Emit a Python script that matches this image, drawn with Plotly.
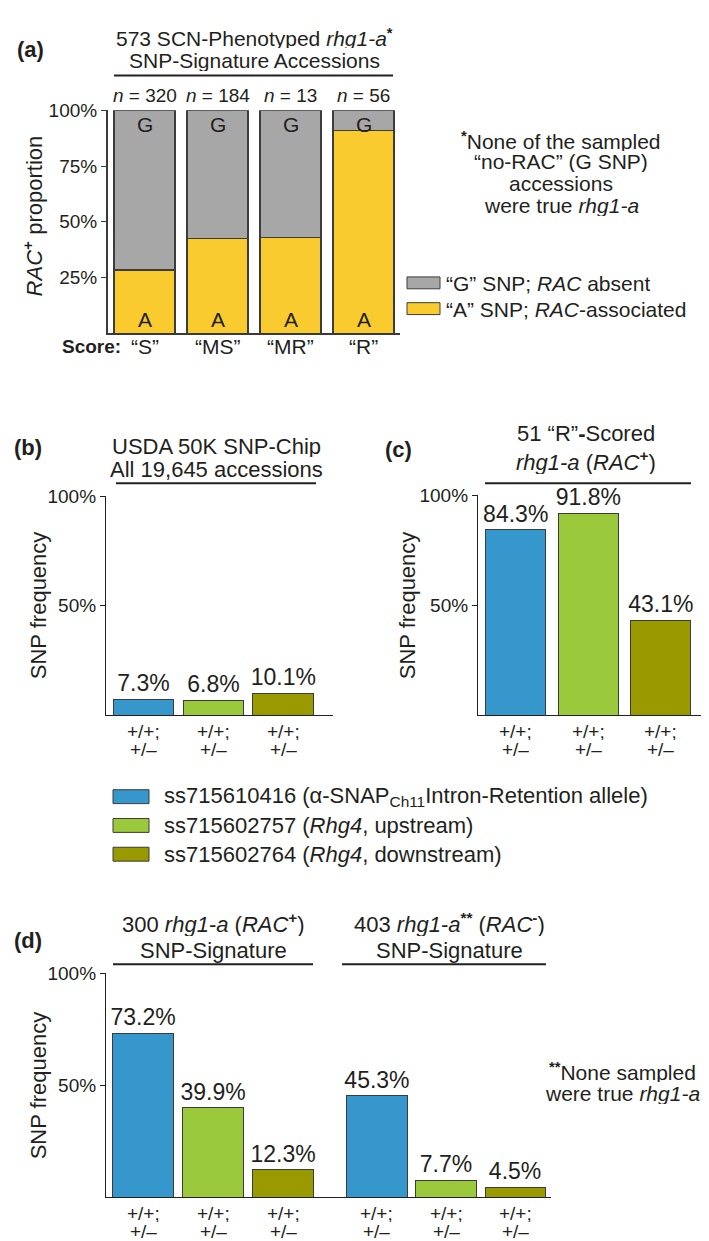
import plotly.graph_objects as go

# ---------------- data ----------------
scores = ["“S”", "“MS”", "“MR”", "“R”"]
n_counts = [320, 184, 13, 56]
a_share = [28.4, 42.4, 43.0, 91.1]     # "A" SNP; RAC-associated (%)
g_share = [71.6, 57.6, 57.0, 8.9]      # "G" SNP; RAC absent (%)

snp_ids = ["ss715610416", "ss715602757", "ss715602764"]
snp_desc = ["(α-SNAP<sub>Ch11</sub>Intron-Retention allele)",
            "(<i>Rhg4</i>, upstream)",
            "(<i>Rhg4</i>, downstream)"]
genotype_lines = ["+/+;", "+/–"]
freq_b = [7.3, 6.8, 10.1]
freq_c = [84.3, 91.8, 43.1]
freq_d_pos = [73.2, 39.9, 12.3]
freq_d_neg = [45.3, 7.7, 4.5]

# ---------------- style ----------------
W, H = 709, 1241
FONT = "Liberation Sans, Arial, sans-serif"
INK = "#231F20"
YELLOW = "#F9CB2F"
GRAY = "#A7A7A7"
SNP_COLORS = ["#3597CC", "#9ACA3C", "#999900"]
EDGE = "#3C3C3C"


def px(x):
    return x / W


def py(y):
    return 1 - y / H


fig = go.Figure()

# panel (a)
fig.add_trace(go.Bar(x=scores, y=a_share, marker=dict(color=YELLOW, line=dict(color=EDGE, width=1.2)),
                     width=0.835, xaxis="x", yaxis="y", showlegend=False, hoverinfo="skip"))
fig.add_trace(go.Bar(x=scores, y=g_share, marker=dict(color=GRAY, line=dict(color=EDGE, width=1.2)),
                     width=0.835, xaxis="x", yaxis="y", showlegend=False, hoverinfo="skip"))


def freq_bar(vals, xa, ya, width):
    return go.Bar(x=snp_ids, y=vals, xaxis=xa, yaxis=ya, width=width,
                  marker=dict(color=SNP_COLORS, line=dict(color=EDGE, width=1)),
                  text=[f"{v:.1f}%" for v in vals], textposition="outside",
                  textfont=dict(size=23, color=INK, family=FONT), cliponaxis=False,
                  constraintext="none", showlegend=False, hoverinfo="skip")


fig.add_trace(freq_bar(freq_b, "x2", "y2", 0.87))
fig.add_trace(freq_bar(freq_c, "x3", "y3", 0.83))
fig.add_trace(freq_bar(freq_d_pos, "x4", "y4", 0.87))
fig.add_trace(freq_bar(freq_d_neg, "x5", "y4", 0.87))

ybase = dict(range=[0, 100], showgrid=False, zeroline=False, showline=True,
             linecolor=INK, linewidth=1.2, ticks="outside", ticklen=5, tickwidth=1.2,
             tickcolor=INK, tickfont=dict(size=19, color=INK), fixedrange=True)
xbase = dict(showgrid=False, zeroline=False, showline=True, linecolor=INK, linewidth=1.4,
             ticks="", showticklabels=False, fixedrange=True)

fig.update_layout(
    width=W, height=H, margin=dict(l=0, r=0, t=0, b=0),
    paper_bgcolor="white", plot_bgcolor="white",
    font=dict(family=FONT, color=INK, size=19),
    barmode="stack",
    xaxis=dict(xbase, domain=[px(100), px(392)], range=[-0.5, 3.5], anchor="y",
               linecolor="#3A3A3A", linewidth=2),
    yaxis=dict(ybase, domain=[py(318), py(93)], anchor="x", tickvals=[25, 50, 75, 100],
               ticktext=["25%", "50%", "75%", "100%"], linecolor="#3A3A3A", linewidth=2,
               tickcolor="#3A3A3A"),
    xaxis2=dict(xbase, domain=[px(98), px(325)], range=[-0.536, 2.71], anchor="y2"),
    yaxis2=dict(ybase, domain=[py(703), py(482)], anchor="x2", tickvals=[50, 100],
                ticktext=["50%", "100%"]),
    xaxis3=dict(xbase, domain=[px(470), px(700)], range=[-0.52, 2.65], anchor="y3"),
    yaxis3=dict(ybase, domain=[py(703), py(481)], anchor="x3", tickvals=[50, 100],
                ticktext=["50%", "100%"]),
    xaxis4=dict(xbase, domain=[px(98), px(322)], range=[-0.53, 2.67], anchor="y4"),
    xaxis5=dict(xbase, domain=[px(322), px(543)], range=[-0.68, 2.52], anchor="y4"),
    yaxis4=dict(ybase, domain=[py(1189), py(963)], anchor="x4", tickvals=[50, 100],
                ticktext=["50%", "100%"]),
)

ann = []
shapes = []


def text(x, y, s, size=21, bold=False, angle=0, xanchor="center", xref="paper", yref="paper",
         height=None):
    if bold:
        s = f"<b>{s}</b>"
    a = dict(x=x, y=y, xref=xref, yref=yref, text=s, showarrow=False,
             textangle=angle, xanchor=xanchor, yanchor="middle", borderpad=0,
             font=dict(size=size, color=INK, family=FONT))
    if height:
        a["height"] = height
    ann.append(a)


def hline(x0, x1, y, w=2):
    shapes.append(dict(type="line", xref="paper", yref="paper", x0=px(x0), x1=px(x1),
                       y0=py(y), y1=py(y), line=dict(color=INK, width=w)))


def genotype_labels(xref, base_y):
    for sid in snp_ids:
        text(sid, py(base_y + 16), genotype_lines[0], 19, xref=xref, height=18)
        text(sid, py(base_y + 34), genotype_lines[1], 19, xref=xref, height=18)


# ---- panel (a) ----
text(px(22), py(32), "(a)", 22, bold=True)
text(px(246), py(20), "573 SCN-Phenotyped <i>rhg1-a</i><b><sup>*</sup></b>", 21, height=21)
text(px(246), py(43), "SNP-Signature Accessions", 21, height=21)
hline(106, 385, 58)
for s, n in zip(scores, n_counts):
    text(s, py(78), f"<i>n</i> = {n}", 19, xref="x")
    text(s, py(331), s, 21, xref="x")
    ann.append(dict(x=s, y=100, xref="x", yref="y", text="G", showarrow=False, yanchor="top",
                    yshift=-1, font=dict(size=21, color=INK, family=FONT)))
    ann.append(dict(x=s, y=0, xref="x", yref="y", text="A", showarrow=False, yanchor="bottom",
                    yshift=0, font=dict(size=21, color=INK, family=FONT)))
text(px(25), py(200), "<i>RAC</i><sup><b>+</b></sup> proportion", 22, angle=-90)
text(px(83), py(331), "Score:", 19, bold=True)

text(px(553), py(123), "<b><sup>*</sup></b>None of the sampled", 21, height=21)
text(px(553), py(145), "“no-RAC” (G SNP)", 21, height=21)
text(px(553), py(167), "accessions", 21, height=21)
text(px(553), py(189), "were true <i>rhg1-a</i>", 21, height=21)

for yy, col, lab in [(267, GRAY, "“G” SNP; <i>RAC</i> absent"),
                     (293, YELLOW, "“A” SNP; <i>RAC</i>-associated")]:
    shapes.append(dict(type="rect", xref="paper", yref="paper", x0=px(399), x1=px(432),
                       y0=py(yy + 6), y1=py(yy - 6), fillcolor=col, line=dict(color=EDGE, width=1)))
    text(px(437), py(yy), lab, 21, xanchor="left", height=24)

# ---- panel (b) ----
text(px(20), py(433), "(b)", 22, bold=True)
text(px(208), py(431), "USDA 50K SNP-Chip", 22, height=22)
text(px(208), py(455), "All 19,645 accessions", 22, height=22)
hline(108, 308, 469)
text(px(30), py(592), "SNP frequency", 22, angle=-90)
genotype_labels("x2", 703)

# ---- panel (c) ----
text(px(390), py(435), "(c)", 22, bold=True)
text(px(578), py(418), "51 “R”<b>-</b>Scored", 22, height=26)
text(px(578), py(447), "<i>rhg1-a</i> (<i>RAC</i><sup><b>+</b></sup>)", 22, height=26)
hline(477, 683, 469)
text(px(399), py(592), "SNP frequency", 22, angle=-90)
genotype_labels("x3", 703)

# ---- legend for b-d ----
for i, (sid, desc, col) in enumerate(zip(snp_ids, snp_desc, SNP_COLORS)):
    yy = 785 + i * 29
    shapes.append(dict(type="rect", xref="paper", yref="paper", x0=px(105), x1=px(141),
                       y0=py(yy + 7), y1=py(yy - 7), fillcolor=col, line=dict(color=EDGE, width=1)))
    text(px(155), py(yy), f"{sid} {desc}", 22, xanchor="left", height=27)

# ---- panel (d) ----
text(px(20), py(930), "(d)", 22, bold=True)
text(px(205), py(912), "300 <i>rhg1-a</i> (<i>RAC</i><sup><b>+</b></sup>)", 22, height=26)
text(px(205), py(940), "SNP-Signature", 22, height=26)
hline(105, 305, 954)
text(px(441), py(912), "403 <i>rhg1-a</i><b><sup>**</sup></b> (<i>RAC</i><sup><b>-</b></sup>)", 22, height=26)
text(px(441), py(940), "SNP-Signature", 22, height=26)
hline(334, 538, 954)
text(px(30), py(1076), "SNP frequency", 22, angle=-90)
text(px(614), py(1062), "<b><sup>**</sup></b>None sampled", 21, height=21)
text(px(614), py(1084), "were true <i>rhg1-a</i>", 21, height=21)
genotype_labels("x4", 1189)
genotype_labels("x5", 1189)

fig.update_layout(annotations=ann, shapes=shapes)
fig.write_html("out.html")
